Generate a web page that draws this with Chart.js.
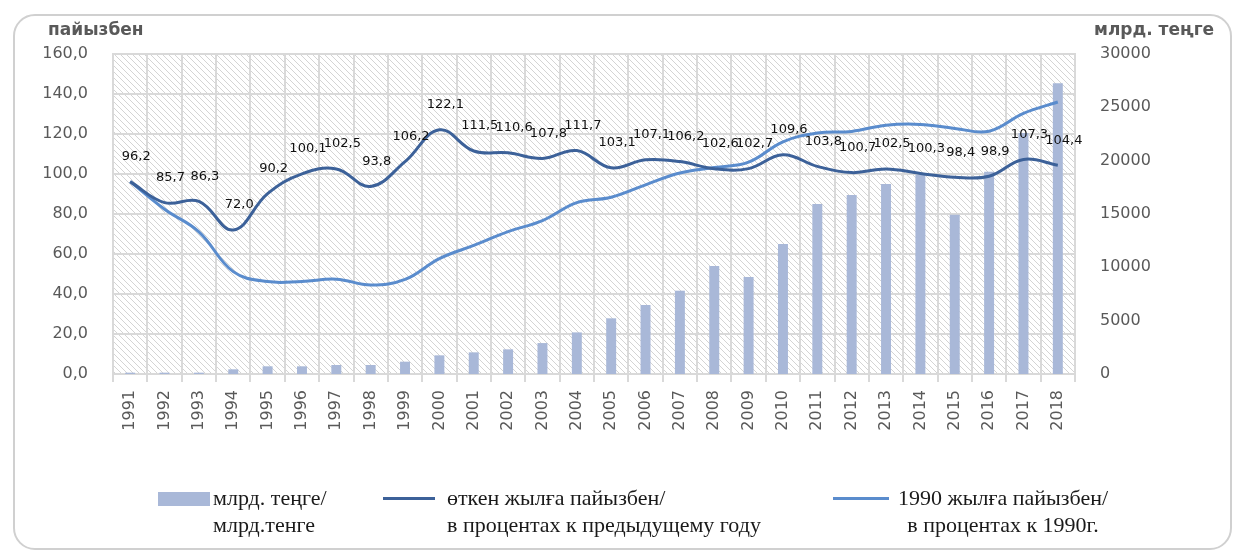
<!DOCTYPE html>
<html>
<head>
<meta charset="utf-8">
<script src="https://cdn.jsdelivr.net/npm/chart.js@4.4.1/dist/chart.umd.min.js"></script>
<style>
  html, body { margin: 0; padding: 0; background: #fff; }
  #wrap { position: relative; width: 1236px; height: 554px; overflow: hidden; }
  #frame { position: absolute; left: 13px; top: 14px; width: 1219px; height: 536px;
           border: 2px solid #d0d0d0; border-radius: 22px; box-sizing: border-box; }
  canvas { position: absolute; left: 0; top: 0; }
  .axisTitle { position: absolute; top: 19px; font: bold 17px 'DejaVu Sans', sans-serif; color: #595959; }
  .leg { position: absolute; font: 22px 'Liberation Serif', serif; line-height: 27px; color: #1a1a1a; white-space: nowrap; }
  .sw { position: absolute; }
</style>
</head>
<body>
<div id="wrap">
  <div id="frame"></div>
  <canvas id="chart" width="1236" height="554"></canvas>
  <div class="axisTitle" style="left:48px">пайызбен</div>
  <div class="axisTitle" style="left:1094px">млрд. теңге</div>
  <div id="legend"></div>
</div>
<script>
// years on the category axis
const years = ['1991','1992','1993','1994','1995','1996','1997','1998','1999','2000',
  '2001','2002','2003','2004','2005','2006','2007','2008','2009','2010',
  '2011','2012','2013','2014','2015','2016','2017','2018'];

// bars, right axis (млрд. теңге)
const outputBn = [125, 125, 125, 440, 720, 720, 845, 845, 1155, 1750,
  2030, 2310, 2900, 3900, 5220, 6470, 7810, 10125, 9090, 12190,
  15940, 16780, 17810, 18660, 14940, 18970, 22600, 27250];

// dark line, % to previous year (labelled)
const prevYearPct = [96.2, 85.7, 86.3, 72.0, 90.2, 100.1, 102.5, 93.8, 106.2, 122.1,
  111.5, 110.6, 107.8, 111.7, 103.1, 107.1, 106.2, 102.6, 102.7, 109.6,
  103.8, 100.7, 102.5, 100.3, 98.4, 98.9, 107.3, 104.4];

// light line, % to 1990
const vs1990Pct = [96.2, 82.4, 71.1, 51.2, 46.2, 46.3, 47.4, 44.5, 47.3, 57.7,
  64.3, 71.2, 76.7, 85.7, 88.4, 94.6, 100.5, 103.2, 105.9, 116.1,
  120.5, 121.3, 124.4, 124.8, 122.8, 121.4, 130.3, 136.0];

const leftTicks = [0, 20, 40, 60, 80, 100, 120, 140, 160];
const rightTicks = [0, 5000, 10000, 15000, 20000, 25000, 30000];

const seriesNames = [
  ['млрд. теңге/', 'млрд.тенге'],
  ['өткен жылға пайызбен/', 'в процентах к предыдущему году'],
  ['1990 жылға пайызбен/', 'в процентах к 1990г.']
];

const barColor = '#a9b8d8';
const darkColor = '#3c6199';
const lightColor = '#5a8ccd';
const gridColor = '#d9d9d9';

function comma(v) { return v.toFixed(1).replace('.', ','); }

// diagonal hatch for the plot area
const tile = document.createElement('canvas');
tile.width = 6; tile.height = 6;
const tctx = tile.getContext('2d');
tctx.strokeStyle = '#d4d4d4';
tctx.lineWidth = 1;
tctx.beginPath();
tctx.moveTo(0, 0); tctx.lineTo(6, 6);
tctx.moveTo(-1, 5); tctx.lineTo(1, 7);
tctx.moveTo(5, -1); tctx.lineTo(7, 1);
tctx.stroke();

const hatchPlugin = {
  id: 'hatch',
  beforeDraw(chart) {
    const { ctx, chartArea: a } = chart;
    ctx.save();
    ctx.fillStyle = ctx.createPattern(tile, 'repeat');
    ctx.fillRect(a.left, a.top, a.right - a.left, a.bottom - a.top);
    ctx.restore();
  }
};

const valueLabels = {
  id: 'valueLabels',
  afterDatasetsDraw(chart) {
    const ctx = chart.ctx;
    const meta = chart.getDatasetMeta(1);
    ctx.save();
    ctx.font = '13px "DejaVu Sans"';
    ctx.fillStyle = '#111';
    ctx.textAlign = 'center';
    ctx.textBaseline = 'middle';
    meta.data.forEach((pt, i) => {
      ctx.fillText(comma(prevYearPct[i]), pt.x + 6, pt.y - 25);
    });
    ctx.restore();
  }
};

Chart.defaults.font.family = 'DejaVu Sans';
Chart.defaults.color = '#595959';

const chart = new Chart(document.getElementById('chart'), {
  type: 'bar',
  data: {
    labels: years,
    datasets: [
      {
        label: seriesNames[0].join(' '),
        data: outputBn,
        yAxisID: 'y2',
        backgroundColor: barColor,
        categoryPercentage: 1,
        barPercentage: 0.29,
        order: 3
      },
      {
        type: 'line',
        label: seriesNames[1].join(' '),
        data: prevYearPct,
        yAxisID: 'y',
        borderColor: darkColor,
        borderWidth: 3,
        pointRadius: 0,
        tension: 0.4,
        order: 1
      },
      {
        type: 'line',
        label: seriesNames[2].join(' '),
        data: vs1990Pct,
        yAxisID: 'y',
        borderColor: lightColor,
        borderWidth: 3,
        pointRadius: 0,
        tension: 0.4,
        order: 2
      }
    ]
  },
  options: {
    responsive: false,
    animation: false,
    layout: { padding: { top: 54, left: 0, right: 0, bottom: 0 } },
    plugins: { legend: { display: false }, tooltip: { enabled: false } },
    scales: {
      x: {
        grid: { color: gridColor, lineWidth: 2, tickLength: 8, offset: true },
        border: { color: gridColor, width: 2 },
        ticks: { minRotation: 90, maxRotation: 90, padding: 8, font: { size: 16 } },
        afterFit(s) { s.height = 180; }
      },
      y: {
        position: 'left',
        min: 0, max: 160,
        afterBuildTicks(s) { s.ticks = leftTicks.map(v => ({ value: v })); },
        grid: { color: gridColor, lineWidth: 2, drawTicks: false },
        border: { color: gridColor, width: 2 },
        ticks: { padding: 25, font: { size: 16 }, callback: v => comma(v) },
        afterFit(s) { s.width = 113; }
      },
      y2: {
        position: 'right',
        min: 0, max: 30000,
        afterBuildTicks(s) { s.ticks = rightTicks.map(v => ({ value: v })); },
        grid: { display: false, drawTicks: false },
        border: { color: gridColor, width: 2 },
        ticks: { padding: 25, font: { size: 16 }, callback: v => String(v) },
        afterFit(s) { s.width = 161; }
      }
    }
  },
  plugins: [hatchPlugin, valueLabels]
});

// html legend with two-line labels, built from the datasets
const legendPos = [
  { sw: 158, swW: 52, text: 213, align: 'left', width: 200 },
  { sw: 383, swW: 52, text: 447, align: 'left', width: 360 },
  { sw: 833, swW: 56, text: 889, align: 'center', width: 228 }
];
const legend = document.getElementById('legend');
chart.data.datasets.forEach((ds, i) => {
  const p = legendPos[i];
  const sw = document.createElement('div');
  sw.className = 'sw';
  if (ds.type === 'line') {
    sw.style.cssText = `left:${p.sw}px;top:497px;width:${p.swW}px;height:3px;background:${ds.borderColor}`;
  } else {
    sw.style.cssText = `left:${p.sw}px;top:492px;width:${p.swW}px;height:14px;background:${ds.backgroundColor}`;
  }
  legend.appendChild(sw);
  const t = document.createElement('div');
  t.className = 'leg';
  t.style.cssText = `left:${p.text}px;top:484px;width:${p.width}px;text-align:${p.align}`;
  t.innerHTML = seriesNames[i].join('<br>');
  legend.appendChild(t);
});
</script>
</body>
</html>
